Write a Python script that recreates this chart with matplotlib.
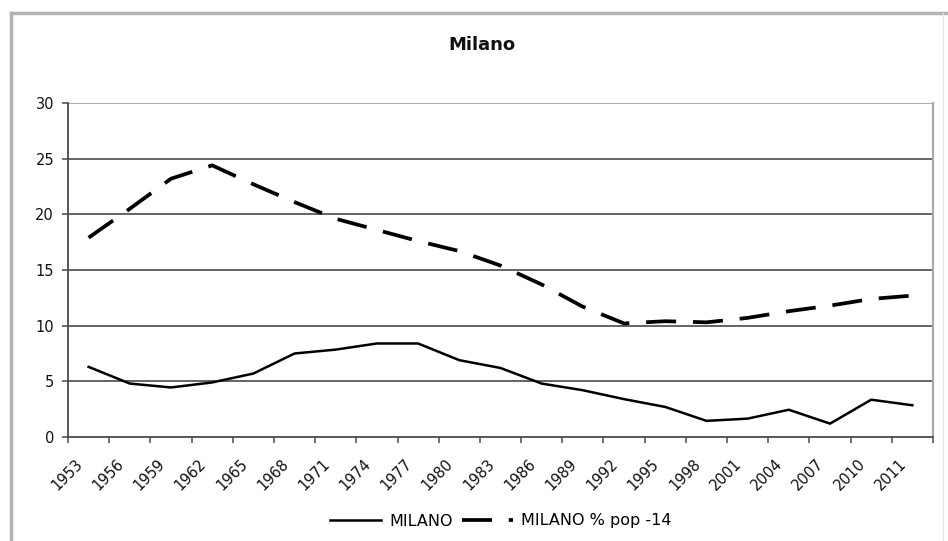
import matplotlib
matplotlib.use('Agg')
import matplotlib.pyplot as plt
from matplotlib.lines import Line2D
import numpy as np

# etichette dell'asse x (una ogni 3 categorie)
year_labels = ['1953', '1956', '1959', '1962', '1965', '1968', '1971', '1974',
               '1977', '1980', '1983', '1986', '1989', '1992', '1995', '1998',
               '2001', '2004', '2007', '2010', '2011']

# serie
milano = [6.3, 4.8, 4.45, 4.9, 5.7, 7.5, 7.85, 8.4, 8.4, 6.9, 6.2,
          4.8, 4.2, 3.4, 2.7, 1.45, 1.65, 2.45, 1.2, 3.35, 2.85]
milano_pop14 = [17.9, 20.5, 23.2, 24.4, 22.7, 21.1, 19.6, 18.6, 17.6, 16.7, 15.4,
                13.7, 11.7, 10.2, 10.4, 10.3, 10.7, 11.3, 11.8, 12.4, 12.7]

n_cat = len(year_labels) * 3
x = np.arange(len(milano)) * 3 + 1.5

fig = plt.figure(figsize=(9.48, 5.41), dpi=100)
ax = fig.add_axes([68 / 948, 1 - 437 / 541, (933 - 68) / 948, (437 - 103) / 541])

ax.plot(x, milano, color='black', lw=1.8, label='MILANO')
ax.plot(x, milano_pop14, color='black', lw=2.7, dashes=(8, 4.5), label='MILANO % pop -14')

ax.set_xlim(0, n_cat)
ax.set_ylim(0, 30)
ax.set_yticks(range(0, 31, 5))

# griglia orizzontale
for v in range(5, 30, 5):
    ax.axhline(v, color='#4a4a4a', lw=1.2, zorder=0)
ax.axhline(30, color='#aaaaaa', lw=1.4, zorder=0)

ax.set_xticks(np.arange(0, n_cat + 1, 3))
ax.set_xticklabels([])
ax.set_xticks(np.arange(len(year_labels)) * 3 + 0.5, minor=True)
ax.set_xticklabels(year_labels, minor=True, rotation=45, ha='right', va='top',
                   rotation_mode='anchor', fontsize=10.5, color='#111111')
ax.tick_params(axis='x', which='minor', length=0, pad=14)
ax.tick_params(axis='x', which='major', length=4, width=1.1, color='#4a4a4a', direction='out')
ax.tick_params(axis='y', length=4, width=1.1, color='#4a4a4a', labelsize=10.5,
               labelcolor='#111111', pad=6)

for s in ['left', 'bottom']:
    ax.spines[s].set_color('#4a4a4a')
    ax.spines[s].set_linewidth(1.3)
ax.spines['top'].set_visible(False)
ax.spines['right'].set_color('#aaaaaa')
ax.spines['right'].set_linewidth(1.6)

fig.text(482 / 948, 1 - 45 / 541, 'Milano', ha='center', va='center',
         fontsize=13, fontweight='bold', color='#111111')

fig.legend(loc='center', bbox_to_anchor=(501 / 948, 1 - 521 / 541), ncol=2,
           frameon=False, fontsize=11.5, handlelength=3.2, columnspacing=0.6,
           handletextpad=0.5)

# cornice del grafico
fig.add_artist(Line2D([11 / 948, 1], [1 - 13 / 541, 1 - 13 / 541], color='#b4b4b4', lw=2.5))
fig.add_artist(Line2D([11 / 948, 11 / 948], [0, 1 - 13 / 541], color='#b4b4b4', lw=2.5))
fig.add_artist(Line2D([943 / 948, 943 / 948], [0, 1 - 13 / 541], color='#e6e6e6', lw=1.0))

fig.savefig('out.png', dpi=100)
